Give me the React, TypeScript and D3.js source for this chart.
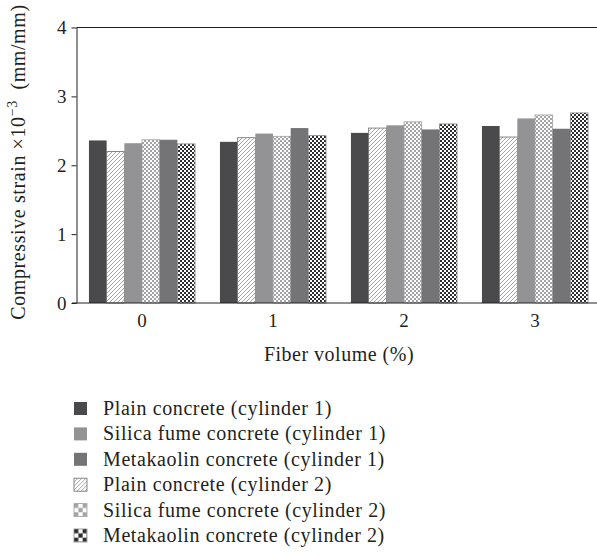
import * as d3 from 'd3';
import { useEffect, useRef } from 'react';

const groups = ['0', '1', '2', '3'];
const seriesNames = [
  'Plain concrete (cylinder 1)',
  'Plain concrete (cylinder 2)',
  'Silica fume concrete (cylinder 1)',
  'Silica fume concrete (cylinder 2)',
  'Metakaolin concrete (cylinder 1)',
  'Metakaolin concrete (cylinder 2)',
];
const plain1 = [2.36, 2.34, 2.47, 2.57];
const plain2 = [2.2, 2.4, 2.54, 2.41];
const silica1 = [2.32, 2.46, 2.58, 2.68];
const silica2 = [2.37, 2.42, 2.63, 2.73];
const meta1 = [2.37, 2.54, 2.52, 2.53];
const meta2 = [2.31, 2.43, 2.6, 2.76];
const yTicks = [0, 1, 2, 3, 4];
const legendOrder = [0, 2, 4, 1, 3, 5];

const App = (): React.ReactElement => {
  const ref: any = useRef();
  const width = 597;
  const height = 556;
  const font = '"Liberation Serif", "Times New Roman", serif';
  const ink = '#231f20';

  useEffect(() => {
    const svg = d3.select(ref.current).attr('width', width).attr('height', height);
    svg.selectAll('*').remove();

    const series = [plain1, plain2, silica1, silica2, meta1, meta2];
    const fills = ['#4a4a4c', 'url(#hatch)', '#939395', 'url(#chk-light)', '#747476', 'url(#chk-dark)'];
    const legendFills = ['#4a4a4c', 'url(#hatch)', '#939395', 'url(#lg-light)', '#747476', 'url(#lg-dark)'];
    const strokes = ['none', '#6d6d6f', 'none', '#a0a0a2', 'none', '#8a8a8c'];

    // patterns
    const defs = svg.append('defs');
    const hatch = defs
      .append('pattern')
      .attr('id', 'hatch')
      .attr('patternUnits', 'userSpaceOnUse')
      .attr('width', 4)
      .attr('height', 4);
    hatch.append('rect').attr('width', 4).attr('height', 4).attr('fill', '#fff');
    hatch
      .append('path')
      .attr('d', 'M-1,1 l2,-2 M0,4 l4,-4 M3,5 l2,-2')
      .attr('stroke', '#8e8e90')
      .attr('stroke-width', 0.8);

    const checker = (id: string, c: string, s: number) => {
      const p = defs
        .append('pattern')
        .attr('id', id)
        .attr('patternUnits', 'userSpaceOnUse')
        .attr('width', s * 2)
        .attr('height', s * 2);
      p.append('rect').attr('width', s * 2).attr('height', s * 2).attr('fill', '#fff');
      p.append('rect').attr('width', s).attr('height', s).attr('fill', c);
      p.append('rect').attr('x', s).attr('y', s).attr('width', s).attr('height', s).attr('fill', c);
    };
    checker('chk-light', '#a4a4a6', 2);
    checker('chk-dark', '#2e2e30', 2);
    checker('lg-light', '#a4a4a6', 13 / 3);
    checker('lg-dark', '#2e2e30', 13 / 3);

    const x0 = d3.scaleBand().domain(groups).range([76.5, 600.5]).paddingInner(0.19).paddingOuter(0.095);
    const x1 = d3
      .scaleBand()
      .domain(d3.range(series.length).map(String))
      .range([0, x0.bandwidth()]);
    const y = d3.scaleLinear().domain([0, 4]).range([303, 27.5]);

    // bars
    series.forEach((vals, si) => {
      svg
        .append('g')
        .selectAll('rect')
        .data(vals)
        .enter()
        .append('rect')
        .attr('x', (d, i) => (x0(groups[i]) ?? 0) + (x1(String(si)) ?? 0))
        .attr('y', (d) => y(d))
        .attr('width', x1.bandwidth())
        .attr('height', (d) => y(0) - y(d))
        .attr('fill', fills[si])
        .attr('stroke', strokes[si])
        .attr('stroke-width', 0.8);
    });

    // top border
    svg
      .append('line')
      .attr('x1', 76.5)
      .attr('x2', width)
      .attr('y1', y(4))
      .attr('y2', y(4))
      .attr('stroke', ink)
      .attr('stroke-width', 1);

    const yAxis = svg
      .append('g')
      .attr('transform', 'translate(76.5,0)')
      .call(
        d3
          .axisLeft(y)
          .tickValues(yTicks)
          .tickFormat(d3.format('d'))
          .tickSize(5)
          .tickPadding(5)
          .tickSizeOuter(0),
      );
    yAxis.select('.domain').attr('stroke', ink);
    yAxis.selectAll('line').attr('stroke', ink);
    yAxis.selectAll('text').attr('font-family', font).attr('font-size', 19).attr('fill', ink);

    const xAxis = svg
      .append('g')
      .attr('transform', 'translate(0,303)')
      .call(d3.axisBottom(x0).tickSize(0).tickPadding(11).tickSizeOuter(0));
    xAxis.select('.domain').attr('stroke', ink).attr('d', 'M72,0H' + width);
    xAxis.selectAll('text').attr('font-family', font).attr('font-size', 19).attr('fill', ink);

    svg
      .append('text')
      .attr('x', 339)
      .attr('y', 361)
      .attr('text-anchor', 'middle')
      .attr('font-family', font)
      .attr('font-size', 20)
      .attr('letter-spacing', 0.5)
      .attr('fill', ink)
      .text('Fiber volume (%)');

    const yl = svg
      .append('text')
      .attr('transform', 'translate(25,162) rotate(-90)')
      .attr('text-anchor', 'middle')
      .attr('font-family', font)
      .attr('font-size', 20)
      .attr('letter-spacing', 0.6)
      .attr('fill', ink);
    yl.append('tspan').text('Compressive strain \u00d710');
    yl.append('tspan').attr('dy', -8).attr('font-size', 14).text('\u22123');
    yl.append('tspan').attr('dy', 8).text('\u2002(mm/mm)');

    // legend
    const lg = svg
      .append('g')
      .selectAll('g')
      .data(legendOrder)
      .enter()
      .append('g')
      .attr('transform', (d, i) => 'translate(74,' + (402 + i * 25.4) + ')');
    lg.append('rect')
      .attr('width', 13)
      .attr('height', 13)
      .attr('fill', (d) => legendFills[d])
      .attr('stroke', (d) => strokes[d])
      .attr('stroke-width', 0.8);
    lg.append('text')
      .attr('x', 29)
      .attr('y', 13)
      .attr('font-family', font)
      .attr('font-size', 20)
      .attr('letter-spacing', 0.6)
      .attr('fill', ink)
      .text((d) => seriesNames[d]);
  }, []);

  return (
    <div style={{ position: 'absolute', left: 0, top: 0 }}>
      <svg ref={ref} style={{ display: 'block' }} />
    </div>
  );
};

export default App;
